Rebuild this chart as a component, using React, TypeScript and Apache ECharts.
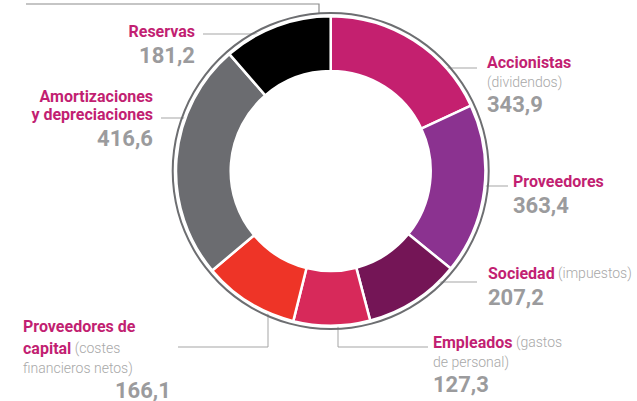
import React, { useEffect, useRef } from "react";
import * as echarts from "echarts";

// ---- data ----
const categories = [
  "Accionistas",
  "Proveedores",
  "Sociedad",
  "Empleados",
  "Proveedores de capital",
  "Amortizaciones y depreciaciones",
  "Reservas",
];
// values printed on the labels
const values = [343.9, 363.4, 207.2, 127.3, 166.1, 416.6, 181.2];
// slice sizes as drawn in the picture (degrees of the ring)
const sliceAngles = [65, 64.1, 36.1, 28.8, 36, 89.1, 40.9];
const titleLines = [
  ["Accionistas"],
  ["Proveedores"],
  ["Sociedad"],
  ["Empleados"],
  ["Proveedores de", "capital"],
  ["Amortizaciones", "y depreciaciones"],
  ["Reservas"],
];
const noteLines = [
  ["(dividendos)"],
  [],
  ["(impuestos)"],
  ["(gastos", "de personal)"],
  ["(costes", "financieros netos)"],
  [],
  [],
];
const noteInline = [false, false, true, true, true, false, false];

// ---- styling / layout ----
const colors = ["#c4206f", "#8b3290", "#741556", "#d7295a", "#ee3427", "#6b6c70", "#000000"];
const titleStyle = ["t", "t", "t", "t", "t", "ta", "t"];
const valueStyle = ["v", "v", "v", "v", "vc", "va", "v"];
const labelAnchors = [
  { x: 487, y: 51, align: "left", line: [[419, 68], [477, 68]] },
  { x: 513, y: 170, align: "left", line: [[463, 186], [508, 186]] },
  { x: 488, y: 262, align: "left", line: [[413, 282], [477, 282]] },
  { x: 433, y: 331, align: "left", line: [[338, 311], [338, 347], [428, 347]] },
  { x: 23, y: 315, align: "left", line: [[268, 303], [268, 347], [178, 347]] },
  { x: 153, y: 87.5, align: "right", line: [[206, 118], [161, 118]] },
  { x: 195, y: 20, align: "right", line: [[286, 34], [203, 34]] },
];
const CENTER = [330.7, 171];

function fmt(v: number) {
  return v.toFixed(1).replace(".", ",");
}

function buildLabel(i: number) {
  const ts = titleStyle[i];
  const lines = titleLines[i].map((t) => `{${ts}|${t}}`);
  const notes = noteLines[i].slice();
  if (notes.length) {
    if (noteInline[i]) {
      lines[lines.length - 1] += `{s| ${notes.shift()}}`;
    }
    notes.forEach((n) => lines.push(`{s|${n}}`));
  }
  lines.push(`{${valueStyle[i]}|${fmt(values[i])}}`);
  return lines.join("\n");
}

export default function App() {
  const ref = useRef<HTMLDivElement>(null);
  useEffect(() => {
    if (!ref.current) return;
    const chart = echarts.init(ref.current, undefined, { renderer: "svg" });
    const font = "Roboto, 'Open Sans', sans-serif";
    chart.setOption({
      animation: false,
      graphic: [
        {
          type: "polyline",
          shape: { points: [[26, 4], [319, 4], [319, 13]] },
          style: { stroke: "#8c8c8c", lineWidth: 1.2, fill: null },
          silent: true,
        },
      ],
      series: [
        {
          type: "pie",
          silent: true,
          center: CENTER,
          radius: [157, 159],
          label: { show: false },
          labelLine: { show: false },
          itemStyle: { color: "#6d6e71" },
          emphasis: { disabled: true },
          data: [{ value: 1, name: "ring" }],
        },
        {
          type: "pie",
          silent: true,
          center: CENTER,
          radius: [100, 154.7],
          startAngle: 90,
          clockwise: true,
          avoidLabelOverlap: false,
          emphasis: { disabled: true },
          itemStyle: { borderColor: "#ffffff", borderWidth: 2.5 },
          label: {
            show: true,
            fontFamily: font,
            formatter: (p: any) => buildLabel(p.dataIndex),
            rich: {
              t: { fontFamily: font, fontSize: 16, fontWeight: "bold", color: "#c21f72", lineHeight: 22 },
              ta: { fontFamily: font, fontSize: 16, fontWeight: "bold", color: "#c21f72", lineHeight: 18 },
              s: { fontFamily: font, fontSize: 14, fontWeight: 300, color: "#a8a8a8", lineHeight: 18 },
              v: { fontFamily: font, fontSize: 22, fontWeight: "bold", color: "#9b9b9d", lineHeight: 26 },
              va: { fontFamily: font, fontSize: 22, fontWeight: "bold", color: "#9b9b9d", lineHeight: 30 },
              vc: {
                fontFamily: font,
                fontSize: 22,
                fontWeight: "bold",
                color: "#9b9b9d",
                lineHeight: 26,
                padding: [0, 0, 0, 92],
              },
            },
          },
          labelLine: {
            show: true,
            smooth: false,
            lineStyle: { color: "#a5a5a5", width: 1 },
          },
          labelLayout: (params: any) => {
            const a = labelAnchors[params.dataIndex];
            return {
              x: a.x,
              y: a.y,
              align: a.align,
              verticalAlign: "top",
              labelLinePoints: a.line,
              hideOverlap: false,
            };
          },
          data: categories.map((name, i) => ({
            name,
            value: sliceAngles[i],
            itemStyle: { color: colors[i] },
          })),
        },
      ],
    });
    return () => chart.dispose();
  }, []);
  return (
    <div
      ref={ref}
      style={{ position: "fixed", left: 0, top: 0, width: 637, height: 401, background: "#fff" }}
    />
  );
}
